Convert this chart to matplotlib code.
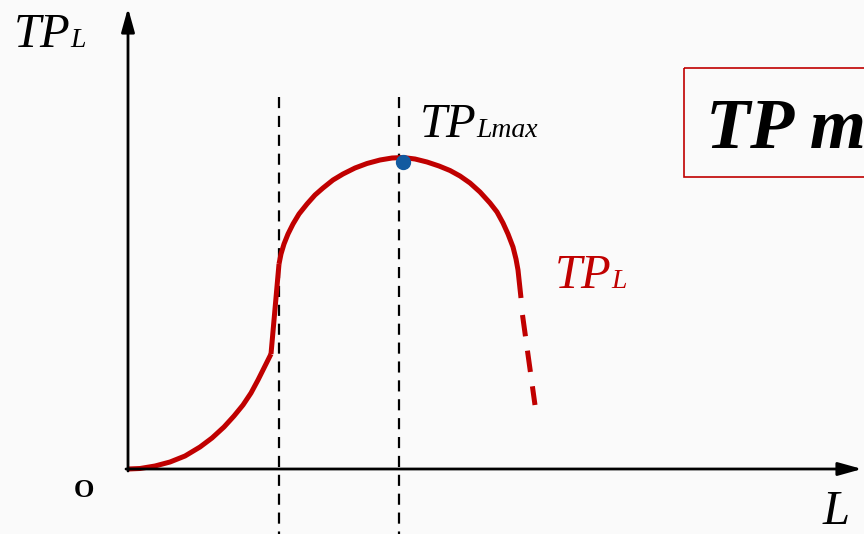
import matplotlib
matplotlib.use("Agg")
import matplotlib.pyplot as plt
from matplotlib.patches import Rectangle

# Coordinates of the total-product curve (x: labour L, y: output, screen-like units)
tp_rise_x = [128, 140, 155, 170, 185, 200, 212, 224, 234, 243, 251, 258, 264, 268, 271]
tp_rise_y = [469, 468.5, 466, 462, 456, 447, 438, 427, 416, 405, 393, 380, 368, 360, 354]

tp_steep_x = [271, 279]
tp_steep_y = [354, 264]

tp_arc_x = [279, 281, 284, 288, 293, 299, 307, 315, 323, 333, 343, 355, 367, 380, 392, 403,
            415, 427, 439, 450, 460, 470, 480, 490, 497, 503, 508, 513, 516, 518, 519.5, 521]
tp_arc_y = [264, 254, 244, 234, 224, 214, 204, 195, 188, 180, 174, 168, 163.5, 160, 158, 157.5,
            159, 162, 166, 170.5, 176, 183, 192, 203, 212, 223, 234, 247, 259, 270, 284, 298]

tp_tail_x = [522.5, 535]
tp_tail_y = [315, 405]

tp_max = (403, 162)
guide_x = [279, 399]

RED = "#c00000"
SERIF = "Liberation Serif"

fig = plt.figure(figsize=(8.64, 5.34), dpi=100)
fig.patch.set_facecolor("#fafafa")
ax = fig.add_axes([0, 0, 1, 1])
ax.set_xlim(0, 864)
ax.set_ylim(534, 0)
ax.axis("off")

# axes with arrowheads
arrow = dict(arrowstyle="-|>,head_length=0.9,head_width=0.25", color="black",
             lw=2.0, shrinkA=0, shrinkB=0, mutation_scale=16)
ax.annotate("", xy=(128, 8), xytext=(128, 471), arrowprops=arrow)
ax.annotate("", xy=(862, 469), xytext=(126, 469), arrowprops=arrow)

# dashed guide lines
for gx in guide_x:
    ax.plot([gx, gx], [97, 534], color="black", lw=1.6, ls=(0, (5, 3.5)))

# TP curve
kw = dict(color=RED, lw=3.6, solid_capstyle="butt", solid_joinstyle="round")
ax.plot(tp_rise_x, tp_rise_y, **kw)
ax.plot(tp_steep_x, tp_steep_y, **kw)
ax.plot(tp_arc_x, tp_arc_y, **kw)
ax.plot(tp_tail_x, tp_tail_y, color=RED, lw=3.6, ls=(0, (4.3, 2.9)), dash_capstyle="butt")

ax.plot(*tp_max, "o", color="#125aa0", ms=10, zorder=5)

# labels
def label(x, y, main, sub, size=35, subsize=20, color="black", gap=0):
    t = ax.text(x, y, main, fontsize=size, family=SERIF, style="italic",
                color=color, va="baseline")
    fig.canvas.draw()
    bb = t.get_window_extent()
    inv = ax.transData.inverted()
    x1 = inv.transform((bb.x1, bb.y0))[0]
    ax.text(x1 + gap, y, sub, fontsize=subsize, family=SERIF, style="italic",
            color=color, va="baseline")

label(14, 47, "TP", "L")
label(420, 137, "TP", "Lmax")
label(555, 288, "TP", "L", color=RED)

ax.text(823, 524, "L", fontsize=35, family=SERIF, style="italic", va="baseline")
ax.text(74, 497, "O", fontsize=19, family=SERIF, weight="bold", va="baseline")

# boxed heading, running off the right edge
ax.add_patch(Rectangle((684, 68), 200, 109, fill=False, edgecolor=RED, lw=1.2,
                       clip_on=False))
ax.text(706, 147, "TP max", fontsize=52, family=SERIF, style="italic",
        weight="bold", va="baseline")

fig.savefig("out.png", dpi=100, facecolor=fig.get_facecolor())
